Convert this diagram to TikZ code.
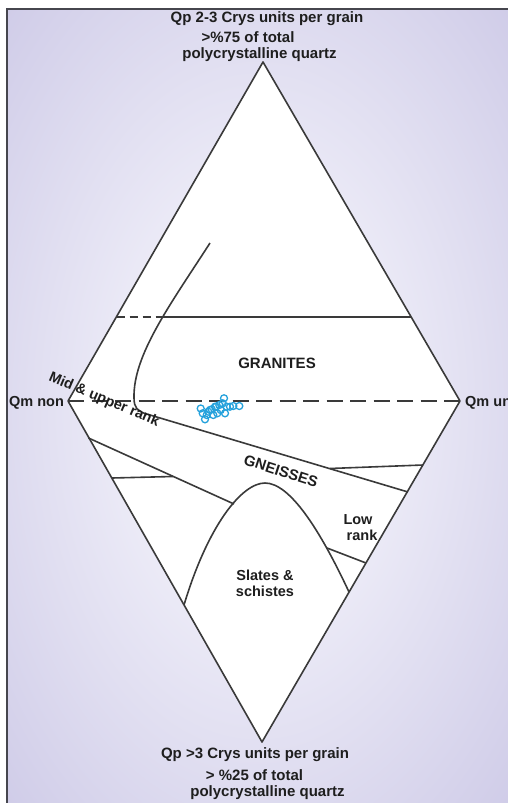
\documentclass[tikz,border=0pt]{standalone}
\usepackage{fontspec}
\setmainfont{Liberation Sans}
\definecolor{lavout}{RGB}{202,198,229}
\definecolor{lavin}{RGB}{238,237,248}
\definecolor{ink}{RGB}{58,58,58}
\definecolor{txt}{RGB}{30,30,30}
\definecolor{dotc}{RGB}{38,162,220}
\definecolor{framec}{RGB}{70,70,78}
\pgfdeclareradialshading{bgrad}{\pgfpoint{0bp}{0bp}}{color(0bp)=(lavin); color(12bp)=(lavin); color(40bp)=(lavout); color(50bp)=(lavout)}
\begin{document}
\begin{tikzpicture}[x=1pt,y=-1pt,
  edge/.style={draw=ink,line width=1.6pt,line join=round},
  lbl/.style={font=\fontsize{15}{17}\selectfont\bfseries,text=txt,inner sep=0pt},
  sml/.style={font=\fontsize{14.5}{16}\selectfont\bfseries,text=txt,inner sep=0pt},
  pt/.style={draw=dotc,line width=1.3pt}]
\useasboundingbox (0,0) rectangle (508,803);
\fill[white] (0,0) rectangle (508,803);
\shade[shading=bgrad] (7,9) rectangle (508,803);
\draw[framec,line width=1.6pt] (7,803) -- (7,9) -- (508,9);
% diamond
\coordinate (T) at (263,62);
\coordinate (R) at (460,401);
\coordinate (B) at (262,742);
\coordinate (L) at (68,401);
\filldraw[fill=white,edge] (T) -- (R) -- (B) -- (L) -- cycle;
% granite boundary curve
\coordinate (c0) at (210,243);
\coordinate (c1) at (134,398);
\coordinate (c2) at (145,413.5);
\coordinate (c3) at (408,492);
\draw[edge] (c0) .. controls (170,305) and (133,355) .. (c1)
  .. controls (134,408) and (138,411) .. (c2) -- (c3);
% upper line at y=317
\coordinate (u0) at (116.5,317);
\coordinate (u1) at (164,317);
\coordinate (u2) at (410.5,317);
\draw[edge,dash pattern=on 8pt off 5pt] (u0) -- (u1);
\draw[edge] (u1) -- (u2);
% middle dashed
\draw[edge,dash pattern=on 16pt off 7.5pt] (L) -- (R);
% lower lines
\coordinate (l0) at (88.5,438);
\coordinate (l1) at (234,504);
\coordinate (l2) at (112,478);
\coordinate (l3) at (173,476.5);
\coordinate (r0) at (330,468.5);
\coordinate (r1) at (423,465);
\draw[edge] (l0) -- (l1);
\draw[edge] (l2) -- (l3);
\draw[edge] (r0) -- (r1);
% hump
\coordinate (h0) at (184,605);
\coordinate (hp) at (265,483);
\coordinate (h1) at (349,592);
\coordinate (h2) at (327,548);
\coordinate (h3) at (366,563);
\draw[edge] (h0) .. controls (208,525) and (242,483) .. (hp)
  .. controls (290,483) and (320,530) .. (h1);
\draw[edge] (h2) -- (h3);
% labels
\node[lbl,anchor=base] (t1) at (267,22.5) {Qp 2-3 Crys units per grain};
\node[lbl,anchor=base] (t2) at (248,42) {>\%75 of total};
\node[lbl,anchor=base] (t3) at (259.5,58.5) {polycrystalline quartz};
\node[lbl,anchor=base] (b1) at (255,758.5) {Qp >3 Crys units per grain};
\node[lbl,anchor=base] (b2) at (254.5,780.5) {> \%25 of total};
\node[lbl,anchor=base] (b3) at (267.5,796.5) {polycrystalline quartz};
\node[sml,anchor=base west] (qn) at (9,406) {Qm non};
\node[sml,anchor=base west] (qu) at (465,406) {Qm un};
\node[lbl,anchor=base] (gr) at (277,368.5) {GRANITES};
\node[sml,rotate=-23] (mu) at (104,400) {Mid \& upper rank};
\node[lbl,rotate=-18] (gn) at (281,471) {GNEISSES};
\node[sml,anchor=base] (lo1) at (358,524) {Low};
\node[sml,anchor=base] (lo2) at (362,540) {rank};
\node[sml,anchor=base] (sl1) at (265,580.5) {Slates \&};
\node[sml,anchor=base] (sl2) at (265,596.5) {schistes};
% data points
\foreach \p in {(200.7,408.5),(202.7,413.3),(205,419.3),(208.3,411.7),(211.7,409.3),
  (213.3,415),(216,406.7),(217.3,413.3),(219.3,405),(220.7,410),(222.7,403.3),
  (224,398.3),(225,413.3),(226.7,406.7),(230,406.7),(233.3,406),(239.3,406),
  (206.7,415),(210,410),(215,406.7)}
  \draw[pt] \p circle (3.5);
\end{tikzpicture}
\end{document}
